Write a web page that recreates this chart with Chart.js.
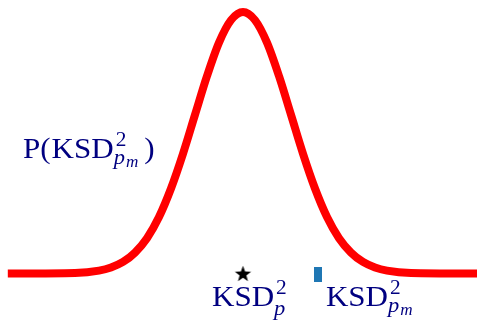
<!DOCTYPE html>
<html>
<head>
<meta charset="utf-8">
<script src="https://cdn.jsdelivr.net/npm/chart.js@4"></script>
<style>
  html, body { margin: 0; padding: 0; background: #fff; }
  #wrap { width: 477px; height: 320px; }
</style>
</head>
<body>
<div id="wrap"><canvas id="c" width="477" height="320"></canvas></div>
<script>
// density curve, read in units of sigma around the centre
const curveX = [-4.9, -3.5, -3, -2.75, -2.5, -2.25, -2, -1.75, -1.5, -1.25, -1, -0.75, -0.5, -0.25, 0,
                0.25, 0.5, 0.75, 1, 1.25, 1.5, 1.75, 2, 2.25, 2.5, 2.75, 3, 3.5, 4.88];
const curveY = [0, 0.002, 0.011, 0.023, 0.044, 0.080, 0.135, 0.216, 0.325, 0.458, 0.607, 0.755, 0.883, 0.969, 1,
                0.969, 0.883, 0.755, 0.607, 0.458, 0.325, 0.216, 0.135, 0.080, 0.044, 0.023, 0.011, 0.002, 0];

// observed statistic (star) and the model statistic (bar marker)
const starX = [0];
const starY = [0];
const rectX = [1.56];
const rectY = [-0.004];

const NAVY = '#000080';
const SERIF = '"Liberation Serif"';

function starImage(r) {
  const cv = document.createElement('canvas');
  const s = Math.ceil(r * 2 + 2);
  cv.width = s; cv.height = s;
  const g = cv.getContext('2d');
  g.translate(s / 2, s / 2 + 0.8);
  g.beginPath();
  for (let i = 0; i < 10; i++) {
    const rad = i % 2 === 0 ? r : r * 0.42;
    const a = -Math.PI / 2 + i * Math.PI / 5;
    g.lineTo(rad * Math.cos(a), rad * Math.sin(a));
  }
  g.closePath();
  g.fillStyle = '#000';
  g.fill();
  return cv;
}

function rectImage(w, h) {
  const cv = document.createElement('canvas');
  cv.width = w; cv.height = h;
  const g = cv.getContext('2d');
  g.fillStyle = '#1f77b4';
  g.fillRect(0, 0, w, h);
  return cv;
}

// text stretched a little wider, closer to the TeX look
function put(ctx, text, font, x, y) {
  ctx.font = font;
  const sx = 1.07;
  ctx.save();
  ctx.translate(x, y);
  ctx.scale(sx, 1);
  ctx.fillText(text, 0, 0);
  ctx.restore();
  return ctx.measureText(text).width * sx;
}

// KSD^2 with sub/superscripts, drawn piece by piece
function drawKSD(ctx, x, base, sub, subsub) {
  const w = put(ctx, 'KSD', '29px ' + SERIF, x, base);
  const sx = x + w + 1;
  put(ctx, '2', '20px ' + SERIF, sx + 1, base - 12);
  const subBase = subsub ? base + 6 : base + 9;
  let end = sx - 1 + put(ctx, sub, 'italic 21px ' + SERIF, sx - 1, subBase);
  if (subsub) {
    end += 1 + put(ctx, subsub, 'italic 16px ' + SERIF, end + 1, subBase + 3);
  }
  return end;
}

const labels = {
  id: 'labels',
  afterDraw(chart) {
    const ctx = chart.ctx;
    const xs = chart.scales.x;
    ctx.save();
    ctx.fillStyle = NAVY;
    ctx.textBaseline = 'alphabetic';
    // axis-style label on the left
    const pw = put(ctx, 'P(', '29px ' + SERIF, 23, 158);
    const end = drawKSD(ctx, 23 + pw + 1, 158, 'p', 'm');
    put(ctx, ')', '29px ' + SERIF, end + 6, 158);
    // labels under the markers
    drawKSD(ctx, xs.getPixelForValue(starX[0]) - 31, 306, 'p');
    drawKSD(ctx, xs.getPixelForValue(rectX[0]) + 8, 306, 'p', 'm');
    ctx.restore();
  }
};

new Chart(document.getElementById('c'), {
  type: 'line',
  data: {
    datasets: [
      {
        data: curveX.map((x, i) => ({ x, y: curveY[i] })),
        borderColor: '#ff0000',
        borderWidth: 8,
        borderCapStyle: 'butt',
        cubicInterpolationMode: 'monotone',
        pointRadius: 0,
        clip: false
      },
      {
        type: 'scatter',
        data: starX.map((x, i) => ({ x, y: starY[i] })),
        pointStyle: starImage(8.5),
        pointRadius: 9,
        clip: false
      },
      {
        type: 'scatter',
        data: rectX.map((x, i) => ({ x, y: rectY[i] })),
        pointStyle: rectImage(8, 15),
        pointRadius: 8,
        clip: false
      }
    ]
  },
  options: {
    responsive: false,
    animation: false,
    layout: { padding: 0, autoPadding: false },
    plugins: { legend: { display: false }, tooltip: { enabled: false } },
    scales: {
      x: { type: 'linear', display: false, min: -5.0625, max: 4.875 },
      y: { display: false, min: -0.178, max: 1.046 }
    }
  },
  plugins: [labels]
});
</script>
</body>
</html>
